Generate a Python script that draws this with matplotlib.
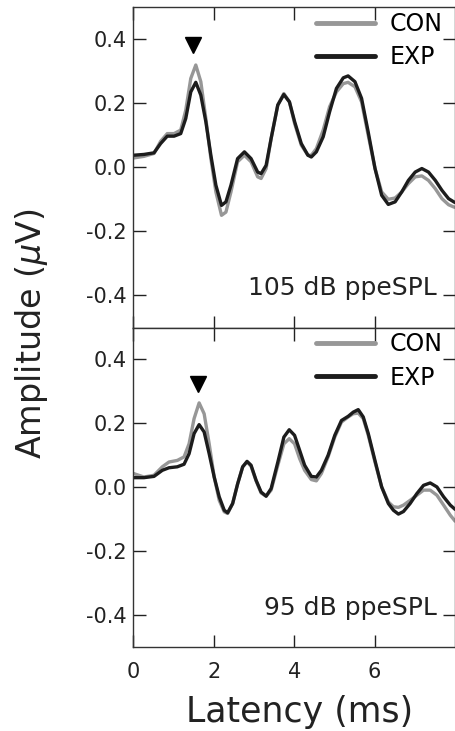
import matplotlib
matplotlib.use("Agg")
import matplotlib.pyplot as plt

plt.rcParams['font.family'] = ['DejaVu Sans']
plt.rcParams['mathtext.fontset'] = 'dejavusans'

# ---------------- data ----------------
lat_top = [0.0, 0.26, 0.51, 0.675, 0.84, 1.01, 1.175, 1.30, 1.425, 1.55, 1.675, 1.80,
           1.925, 2.05, 2.19, 2.30, 2.425, 2.59, 2.76, 2.925, 3.09, 3.175, 3.30, 3.425,
           3.59, 3.74, 3.88, 4.01, 4.175, 4.34, 4.425, 4.55, 4.72, 4.88, 5.05, 5.22,
           5.34, 5.51, 5.675, 5.84, 6.01, 6.175, 6.34, 6.51, 6.675, 6.84, 7.01, 7.175,
           7.34, 7.51, 7.675, 7.84, 7.97, 8.0]
exp_top = [0.0375, 0.040, 0.045, 0.074, 0.097, 0.097, 0.105, 0.152, 0.235, 0.265, 0.225, 0.142,
           0.0375, -0.056, -0.119, -0.108, -0.056, 0.027, 0.048, 0.027, -0.015, -0.020, 0.006, 0.090,
           0.194, 0.227, 0.204, 0.142, 0.074, 0.0375, 0.032, 0.048, 0.095, 0.173, 0.246, 0.279,
           0.285, 0.267, 0.215, 0.110, -0.004, -0.0875, -0.116, -0.108, -0.077, -0.041, -0.015, -0.004,
           -0.015, -0.041, -0.072, -0.098, -0.108, -0.110]
con_top = [0.029, 0.034, 0.043, 0.081, 0.105, 0.105, 0.116, 0.178, 0.277, 0.319, 0.267, 0.152,
           0.027, -0.077, -0.150, -0.140, -0.077, 0.017, 0.0375, 0.017, -0.030, -0.035, -0.004, 0.090,
           0.194, 0.230, 0.204, 0.136, 0.069, 0.0375, 0.0375, 0.058, 0.116, 0.189, 0.235, 0.261,
           0.265, 0.251, 0.204, 0.100, -0.004, -0.077, -0.100, -0.096, -0.077, -0.051, -0.030, -0.027,
           -0.041, -0.067, -0.098, -0.117, -0.124, -0.125]

lat_bot = [0.0, 0.26, 0.51, 0.717, 0.883, 1.09, 1.258, 1.383, 1.508, 1.633, 1.758, 1.883,
           2.008, 2.133, 2.258, 2.342, 2.467, 2.592, 2.717, 2.825, 2.925, 3.05, 3.175, 3.30,
           3.425, 3.592, 3.742, 3.875, 4.008, 4.133, 4.258, 4.425, 4.55, 4.675, 4.842, 5.008,
           5.175, 5.342, 5.467, 5.592, 5.717, 5.842, 6.008, 6.175, 6.342, 6.467, 6.592, 6.717,
           6.883, 7.05, 7.217, 7.383, 7.55, 7.717, 7.883, 7.983, 8.0]
exp_bot = [0.030, 0.030, 0.034, 0.053, 0.061, 0.064, 0.072, 0.105, 0.168, 0.196, 0.173, 0.105,
           0.032, -0.030, -0.072, -0.080, -0.051, 0.011, 0.064, 0.081, 0.069, 0.022, -0.015, -0.028,
           -0.004, 0.079, 0.157, 0.180, 0.1625, 0.116, 0.069, 0.034, 0.032, 0.053, 0.100, 0.1625,
           0.209, 0.222, 0.235, 0.243, 0.220, 0.168, 0.084, 0.001, -0.051, -0.072, -0.084, -0.076,
           -0.051, -0.020, 0.006, 0.0135, 0.001, -0.030, -0.056, -0.067, -0.069]
con_bot = [0.043, 0.032, 0.0375, 0.064, 0.079, 0.084, 0.095, 0.136, 0.215, 0.264, 0.230, 0.136,
           0.032, -0.041, -0.077, -0.082, -0.051, 0.011, 0.064, 0.079, 0.066, 0.020, -0.018, -0.028,
           -0.009, 0.069, 0.136, 0.152, 0.136, 0.090, 0.053, 0.024, 0.020, 0.043, 0.095, 0.157,
           0.204, 0.220, 0.230, 0.232, 0.215, 0.1625, 0.079, 0.001, -0.046, -0.061, -0.063, -0.056,
           -0.041, -0.025, -0.009, -0.009, -0.025, -0.056, -0.0875, -0.103, -0.106]

arrow_top = (1.49, 0.38)
arrow_bot = (1.60, 0.323)
labels_db = ["105 dB ppeSPL", "95 dB ppeSPL"]
series_names = ["CON", "EXP"]
xticks = [0, 2, 4, 6]
yticks = [-0.4, -0.2, 0.0, 0.2, 0.4]

# ---------------- style ----------------
GRAY = "#979797"
BLACK = "#1c1c1c"

W, H = 456, 731
fig = plt.figure(figsize=(W / 100, H / 100), dpi=100)

left = 133.5 / W
right = 455.0 / W
y_top_top = 1 - 7.0 / H
y_mid = 1 - 327.5 / H
y_bot_bot = 1 - 647.0 / H

ax1 = fig.add_axes([left, y_mid, right - left, y_top_top - y_mid])
ax2 = fig.add_axes([left, y_bot_bot, right - left, y_mid - y_bot_bot])

panels = [
    (ax1, lat_top, con_top, exp_top, arrow_top, labels_db[0]),
    (ax2, lat_bot, con_bot, exp_bot, arrow_bot, labels_db[1]),
]

for i, (ax, lat, con, exp, arr, lab) in enumerate(panels):
    ax.plot(lat, con, color=GRAY, lw=2.4, label=series_names[0],
            solid_joinstyle='round', solid_capstyle='round')
    ax.plot(lat, exp, color=BLACK, lw=2.4, label=series_names[1],
            solid_joinstyle='round', solid_capstyle='round')
    ax.plot([arr[0]], [arr[1]], marker='v', color='black', markersize=12, linestyle='none')
    ax.set_xlim(0, 8)
    ax.set_ylim(-0.5, 0.5)
    ax.set_xticks(xticks)
    ax.set_yticks(yticks)
    ax.set_yticklabels([f"{v:.1f}" for v in yticks])
    ax.tick_params(axis='both', which='both', direction='in', length=9, width=1,
                   top=True, right=True, labelsize=15, colors='#222222')
    ax.tick_params(axis='y', pad=5)
    ax.tick_params(axis='x', pad=11)
    for s in ax.spines.values():
        s.set_linewidth(1.0)
        s.set_color('#333333')
    if i == 0:
        ax.tick_params(axis='x', labelbottom=False)
    leg = ax.legend(loc='upper right', bbox_to_anchor=(0.96, 0.985), frameon=False,
                    fontsize=17, handlelength=2.5, handletextpad=0.6,
                    labelspacing=0.4, borderpad=0, borderaxespad=0)
    for ln in leg.get_lines():
        ln.set_linewidth(3.5)
    ax.text(0.944, 0.10, lab, transform=ax.transAxes, ha='right', va='baseline',
            fontsize=18, color='#222222')

fig.text(300 / W, 1 - 722 / H, "Latency (ms)", ha='center', va='baseline',
         fontsize=25, color='#222222')
fig.text(32 / W, 1 - 334 / H, r"Amplitude ($\mu$V)", ha='center', va='center',
         rotation=90, fontsize=24, color='#222222')

fig.savefig("out.png", dpi=100)
